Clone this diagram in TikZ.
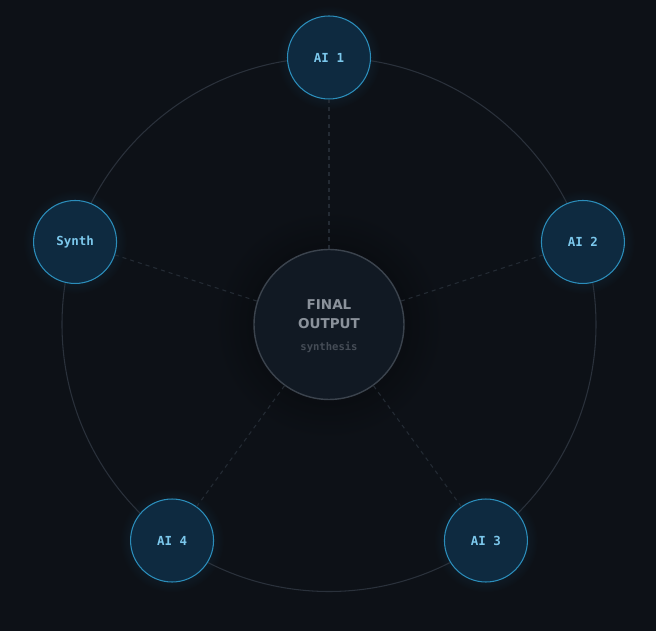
\documentclass[tikz,border=0pt]{standalone}
\usepackage{fontspec}
\setmainfont{DejaVu Sans}
\newfontfamily\monofont{DejaVu Sans Mono}
\usetikzlibrary{positioning}
\definecolor{bgdark}{HTML}{0D1117}
\definecolor{ringgray}{HTML}{2A313B}
\definecolor{spokegray}{HTML}{242B34}
\definecolor{nodefill}{HTML}{0E2A40}
\definecolor{nodeedge}{HTML}{2B8DBA}
\definecolor{nodetext}{HTML}{7CC8EC}
\definecolor{glowblue}{HTML}{123A55}
\definecolor{corefill}{HTML}{111923}
\definecolor{coreedge}{HTML}{3B434D}
\definecolor{coretext}{HTML}{8B929B}
\definecolor{subtext}{HTML}{454C56}
\tikzstyle{agent} = [circle, minimum size=1.66cm, inner sep=0pt, fill=nodefill, draw=nodeedge, line width=0.6pt, text=nodetext, font=\monofont\bfseries\fontsize{7.1}{8}\selectfont]
\tikzstyle{core} = [circle, minimum size=3cm, inner sep=0pt, fill=corefill, draw=coreedge, line width=0.8pt, text=coretext, align=center, font=\bfseries\fontsize{7.7}{10.8}\selectfont]
\tikzstyle{spoke} = [draw=spokegray, line width=0.6pt, dash pattern=on 2.3pt off 2.3pt]

\begin{document}
\begin{tikzpicture}[x=0.02cm, y=0.02cm]

\fill[bgdark] (-329,-306.5) rectangle (327,324.5);
\useasboundingbox (-329,-306.5) rectangle (327,324.5);

% shadow under the centre and glow under the agents
\shade[inner color=black!70!bgdark, outer color=bgdark] (0,0) circle (115);
\foreach \ang in {90,18,-54,-126,162}
  \shade[inner color=glowblue, outer color=bgdark] (\ang:267) circle (52);

\draw[ringgray, line width=0.6pt] (0,0) circle (267);

\node (final) [core] {\rule{0pt}{7.9pt}FINAL\\OUTPUT\\[1.8pt]{\monofont\fontsize{6}{7}\selectfont\color{subtext}synthesis}};

\foreach \name/\ang/\txt in {ai1/90/AI 1, ai2/18/AI 2, ai3/-54/AI 3, ai4/-126/AI 4, synth/162/Synth}{
  \node (\name) [agent] at (\ang:267) {\txt};
  \draw[spoke] (final) -- (\name);
}

\end{tikzpicture}
\end{document}
